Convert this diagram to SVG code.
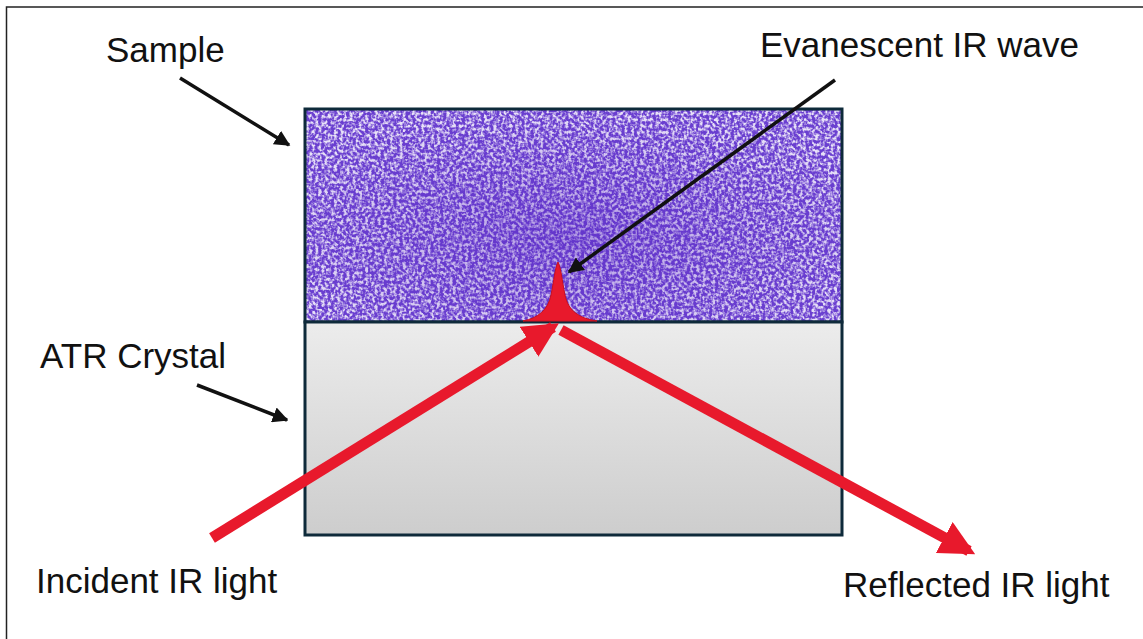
<svg xmlns="http://www.w3.org/2000/svg" width="1143" height="639" viewBox="0 0 1143 639">
<style>
.lbl{font-family:"Liberation Sans",Arial,sans-serif;font-size:35px;fill:#111}
.box{stroke:#0e2a3a;stroke-width:3}
.blk{stroke:#111;stroke-width:3.5;fill:none}
.red{stroke:#e8192c;stroke-width:11;fill:none}
</style>
<defs>
<linearGradient id="gray" x1="0" y1="0" x2="0" y2="1">
<stop offset="0" stop-color="#ececec"/>
<stop offset="1" stop-color="#cdcdcd"/>
</linearGradient>
<radialGradient id="pc" cx="0.5" cy="0.6" r="0.6">
<stop offset="0" stop-color="#5a28c4" stop-opacity="0.4"/>
<stop offset="1" stop-color="#5a28c4" stop-opacity="0"/>
</radialGradient>
<filter id="noise" x="0" y="0" width="100%" height="100%">
<feTurbulence type="fractalNoise" baseFrequency="0.32" numOctaves="2" seed="3" result="t"/>
<feColorMatrix in="t" type="matrix" values="0 0 0 0 1  0 0 0 0 1  0 0 0 0 1  3.4 0 0 0 -1.35"/>
</filter>
<marker id="ah" viewBox="0 0 10 10" refX="9" refY="5" markerWidth="4.5" markerHeight="4.5" orient="auto" markerUnits="strokeWidth">
<path d="M0,0 L10,5 L0,10 z" fill="#111"/>
</marker>
<marker id="rh" viewBox="0 0 10 10" refX="8" refY="5" markerWidth="3.2" markerHeight="3.2" orient="auto" markerUnits="strokeWidth">
<path d="M0,0 L10,5 L0,10 z" fill="#e8192c"/>
</marker>
</defs>
<rect x="0" y="0" width="1143" height="639" fill="#fff"/>
<rect x="6.5" y="7" width="1150" height="650" fill="none" stroke="#222" stroke-width="1.5"/>
<g id="sample">
<rect x="305" y="109" width="537" height="213" fill="#6a3fd0"/>
<rect x="305" y="109" width="537" height="213" fill="#fff" filter="url(#noise)" opacity="0.85"/>
<rect x="305" y="109" width="537" height="213" fill="url(#pc)"/>
<rect x="305" y="109" width="537" height="213" fill="none" class="box"/>
</g>
<g id="crystal">
<rect x="305" y="322" width="537" height="213" fill="url(#gray)" class="box"/>
</g>
<g id="wave">
<path d="M523,321 C538,318 548,310 551,295 C554,280 555,268 558,262 C561,268 562,280 565,295 C568,310 578,318 597,321 Z" fill="#e8192c" stroke="#c8101f" stroke-width="1"/>
</g>
<g id="connectors">
<line x1="180" y1="78" x2="289" y2="145" class="blk" marker-end="url(#ah)"/>
<line x1="197" y1="385" x2="287" y2="420" class="blk" marker-end="url(#ah)"/>
<line x1="835" y1="80" x2="569" y2="272" class="blk" marker-end="url(#ah)"/>
<line x1="212" y1="538" x2="553" y2="327" class="red" marker-end="url(#rh)"/>
<line x1="561" y1="330" x2="969" y2="551" class="red" marker-end="url(#rh)"/>
</g>
<g id="labels">
<text x="106" y="62" class="lbl">Sample</text>
<text x="760" y="57" class="lbl">Evanescent IR wave</text>
<text x="40" y="368" class="lbl">ATR Crystal</text>
<text x="36" y="593" class="lbl">Incident IR light</text>
<text x="843" y="597" class="lbl">Reflected IR light</text>
</g>
</svg>
